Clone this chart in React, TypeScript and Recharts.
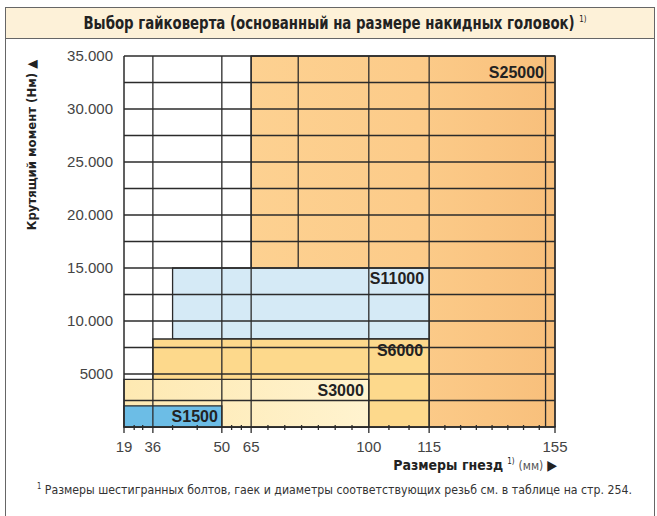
import { ComposedChart, XAxis, YAxis, ReferenceArea, ReferenceLine, Scatter } from 'recharts';

// socket sizes (mm) on the axis, and the minor ticks between them
const sizeTicks = [19, 36, 50, 65, 100, 115, 155];
const minorTicks = [25, 30, 40, 45, 55, 60, 70, 75, 80, 85, 90, 95, 105, 110, 120, 125, 130, 135, 140, 145, 150];
const torqueTicks = [5000, 10000, 15000, 20000, 25000, 30000, 35000];
const torqueGrid = [2500, 5000, 7500, 10000, 12500, 15000, 17500, 20000, 22500, 25000, 27500, 30000, 32500, 35000];
const sizeGrid = [36, 50, 65, 100, 115, 152];

// wrench models, drawn back to front
const models = ['S25000', 'S11000', 'S6000', 'S3000', 'S1500'];
const sizeFrom = [65, 40, 36, 19, 19];
const sizeTo = [155, 115, 115, 100, 50];
const torqueFrom = [0, 8300, 0, 0, 0];
const torqueTo = [35000, 15000, 8300, 4500, 2000];

// the printed axis is not linear: where each labelled size sits along it (0..1)
const axisStopPos = [0, 0.067, 0.227, 0.295, 0.568, 0.708, 1];

function warp(mm: number) {
  for (let i = 0; i < sizeTicks.length - 1; i++) {
    const a = sizeTicks[i], b = sizeTicks[i + 1];
    if (mm <= b || i === sizeTicks.length - 2) {
      return axisStopPos[i] + ((mm - a) / (b - a)) * (axisStopPos[i + 1] - axisStopPos[i]);
    }
  }
  return 0;
}

// box corners, only so the chart has points to lay its axes out on
const corners = models.flatMap((_, i) => [
  { x: warp(sizeFrom[i]), y: torqueFrom[i] },
  { x: warp(sizeTo[i]), y: torqueTo[i] },
]);

const fills = ['url(#g25000)', '#d5eaf6', '#fdd98c', 'url(#g3000)', '#6cbde6'];
const labelOffset = [11, 5, 6, 5, 4];
const labelPos: any[] = ['insideTopRight', 'insideTopRight', 'insideTopRight', 'insideTopRight', 'insideRight'];

const LINE = '#2b2b2b';
const narrow = '"DejaVu Sans Condensed", "Liberation Sans", Arial, sans-serif';
const sans = '"Liberation Sans", Arial, sans-serif';

function SizeTick({ x, y, payload }: any) {
  const idx = sizeTicks.findIndex((t) => Math.abs(warp(t) - payload.value) < 1e-6);
  const major = idx >= 0;
  return (
    <g>
      <line x1={x} x2={x} y1={y - (major ? 1 : 2)} y2={y + (major ? 6 : 3)} stroke={LINE} strokeWidth={1.3} />
      {major && (
        <text x={x} y={y + 25} textAnchor="middle" fontSize={15} fill="#444" fontFamily={sans}>
          {sizeTicks[idx]}
        </text>
      )}
    </g>
  );
}

const fmtTorque = (v: number) => (v >= 10000 ? `${v / 1000}.000` : String(v));

export default function App() {
  const allTicks = [...sizeTicks, ...minorTicks].map(warp);
  return (
    <div style={{ position: 'absolute', left: 0, top: 0, width: 657, height: 516, background: '#fff', overflow: 'hidden', fontFamily: narrow }}>
      <div style={{ position: 'absolute', left: 5, top: 7, width: 650, height: 530, border: '1.5px solid #666', boxSizing: 'border-box' }} />
      <div style={{ position: 'absolute', left: 5, top: 7, width: 650, height: 32, background: '#fdf1d8', border: '1.5px solid #666', boxSizing: 'border-box' }} />
      <div style={{ position: 'absolute', left: 10, top: 13, width: 650, textAlign: 'center', fontSize: 17, fontWeight: 'bold', color: '#222', transform: 'scaleX(0.87)' }}>
        Выбор гайковерта (основанный на размере накидных головок) <sup style={{ fontSize: 9, fontWeight: 'normal' }}>1)</sup>
      </div>
      <div style={{ position: 'absolute', left: 31, top: 145, width: 0, height: 0 }}>
        <div style={{ position: 'absolute', transform: 'translate(-50%, -50%) rotate(-90deg)', whiteSpace: 'nowrap', fontSize: 13, fontWeight: 'bold', color: '#222' }}>
          Крутящий момент (Нм) ▲
        </div>
      </div>
      <div style={{ position: 'absolute', right: 657 - 557, top: 457, whiteSpace: 'nowrap', fontSize: 14, color: '#222' }}>
        <b>Размеры гнезд</b> <sup style={{ fontSize: 8 }}>1)</sup> <span style={{ fontSize: 12, color: '#555' }}>(мм)</span> ▶
      </div>
      <div style={{ position: 'absolute', left: 37, top: 482, whiteSpace: 'nowrap', fontSize: 13, color: '#333', transform: 'scaleX(0.94)', transformOrigin: 'left center' }}>
        <sup style={{ fontSize: 8 }}>1</sup> Размеры шестигранных болтов, гаек и диаметры соответствующих резьб см. в таблице на стр. 254.
      </div>
      <div style={{ position: 'absolute', left: 0, top: 0 }}>
        <ComposedChart width={657} height={516} data={corners} margin={{ top: 56, right: 102, bottom: 59, left: 64 }}>
          <defs>
            <linearGradient id="g25000" x1="0" y1="0" x2="1" y2="0">
              <stop offset="0%" stopColor="#fdd191" />
              <stop offset="55%" stopColor="#fccb89" />
              <stop offset="100%" stopColor="#f8bf7b" />
            </linearGradient>
            <linearGradient id="g3000" x1="0" y1="0" x2="1" y2="0">
              <stop offset="0%" stopColor="#fee9b2" />
              <stop offset="100%" stopColor="#fff3cf" />
            </linearGradient>
          </defs>
          <XAxis
            type="number"
            dataKey="x"
            domain={[0, 1]}
            ticks={allTicks}
            interval={0}
            tick={<SizeTick />}
            tickLine={false}
            tickSize={0}
            tickMargin={0}
            axisLine={{ stroke: LINE, strokeWidth: 1.5 }}
            height={30}
          />
          <YAxis
            type="number"
            dataKey="y"
            domain={[0, 35000]}
            ticks={torqueTicks}
            interval={0}
            tickFormatter={fmtTorque}
            tick={{ fontSize: 15, fill: '#444', fontFamily: sans }}
            tickLine={false}
            tickSize={0}
            tickMargin={11}
            axisLine={{ stroke: LINE, strokeWidth: 1.5 }}
            width={60}
          />
          {models.map((m, i) => (
            <ReferenceArea
              key={m}
              x1={warp(sizeFrom[i])}
              x2={warp(sizeTo[i])}
              y1={torqueFrom[i]}
              y2={torqueTo[i]}
              fill={fills[i]}
              fillOpacity={1}
              stroke={LINE}
              strokeWidth={1.3}
              label={{ value: m, position: labelPos[i], offset: labelOffset[i], fontSize: 16, fontWeight: 'bold', fill: '#222', fontFamily: sans }}
            />
          ))}
          {torqueGrid.map((v) => (
            <ReferenceLine key={'h' + v} y={v} stroke={LINE} strokeWidth={1.3} />
          ))}
          {sizeGrid.map((v) => (
            <ReferenceLine key={'v' + v} x={warp(v)} stroke={LINE} strokeWidth={1.3} />
          ))}
          <ReferenceLine segment={[{ x: warp(79), y: 15000 }, { x: warp(79), y: 35000 }]} stroke={LINE} strokeWidth={1.3} />
          <ReferenceLine x={warp(155)} stroke={LINE} strokeWidth={1.3} />
          <Scatter dataKey="y" shape={() => <g />} isAnimationActive={false} />
        </ComposedChart>
      </div>
    </div>
  );
}
